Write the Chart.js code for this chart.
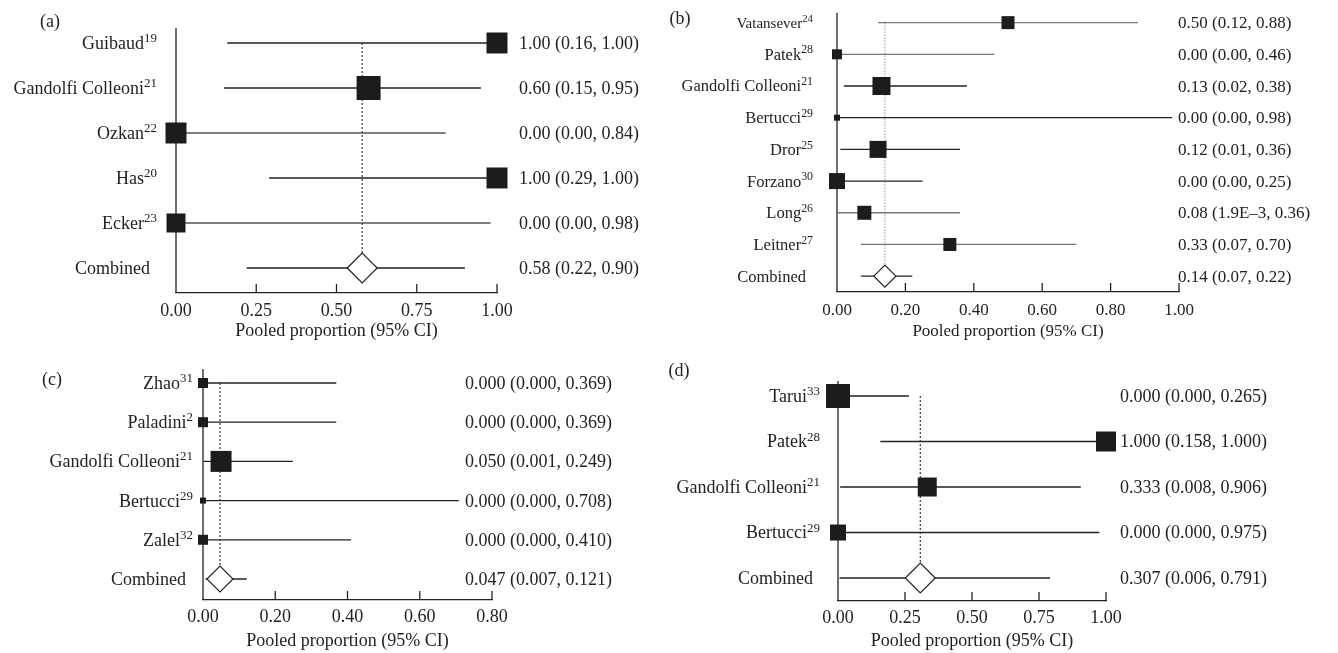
<!DOCTYPE html>
<html>
<head>
<meta charset="utf-8">
<script src="https://cdn.jsdelivr.net/npm/chart.js@4.4.1/dist/chart.umd.min.js"></script>
<style>
body { margin: 0; background: #fff; }
#wrap { position: relative; width: 1338px; height: 653px; }
#wrap canvas { position: absolute; left: 0; top: 0; }
</style>
</head>
<body>
<div id="wrap">
  <canvas id="chartA" width="1338" height="653"></canvas>
  <canvas id="chartB" width="1338" height="653"></canvas>
  <canvas id="chartC" width="1338" height="653"></canvas>
  <canvas id="chartD" width="1338" height="653"></canvas>
</div>
<script>
// (a)
const namesA = ['Guibaud', 'Gandolfi Colleoni', 'Ozkan', 'Has', 'Ecker'];
const refsA = ['19', '21', '22', '20', '23'];
const estA = [1.00, 0.60, 0.00, 1.00, 0.00];
const loA = [0.16, 0.15, 0.00, 0.29, 0.00];
const hiA = [1.00, 0.95, 0.84, 1.00, 0.98];
const weightA = [21, 24, 21, 21, 19];
const pooledA = [0.58, 0.22, 0.90];
const ticksA = [0, 0.25, 0.50, 0.75, 1.00];

// (b)
const namesB = ['Vatansever', 'Patek', 'Gandolfi Colleoni', 'Bertucci', 'Dror', 'Forzano', 'Long', 'Leitner'];
const refsB = ['24', '28', '21', '29', '25', '30', '26', '27'];
const estB = [0.50, 0.00, 0.13, 0.00, 0.12, 0.00, 0.08, 0.33];
const loB = [0.12, 0.00, 0.02, 0.00, 0.01, 0.00, 0.0019, 0.07];
const hiB = [0.88, 0.46, 0.38, 0.98, 0.36, 0.25, 0.36, 0.70];
const weightB = [13, 10, 18, 6, 17, 16, 14, 13];
const pooledB = [0.14, 0.07, 0.22];
const ticksB = [0, 0.20, 0.40, 0.60, 0.80, 1.00];

// (c)
const namesC = ['Zhao', 'Paladini', 'Gandolfi Colleoni', 'Bertucci', 'Zalel'];
const refsC = ['31', '2', '21', '29', '32'];
const estC = [0.000, 0.000, 0.050, 0.000, 0.000];
const loC = [0.000, 0.000, 0.001, 0.000, 0.000];
const hiC = [0.369, 0.369, 0.249, 0.708, 0.410];
const weightC = [10, 10, 21, 6, 10];
const pooledC = [0.047, 0.007, 0.121];
const ticksC = [0, 0.20, 0.40, 0.60, 0.80];

// (d)
const namesD = ['Tarui', 'Patek', 'Gandolfi Colleoni', 'Bertucci'];
const refsD = ['33', '28', '21', '29'];
const estD = [0.000, 1.000, 0.333, 0.000];
const loD = [0.000, 0.158, 0.008, 0.000];
const hiD = [0.265, 1.000, 0.906, 0.975];
const weightD = [24, 20, 19, 16];
const pooledD = [0.307, 0.006, 0.791];
const ticksD = [0, 0.25, 0.50, 0.75, 1.00];

const W = 1338, H = 653;
const SERIF = '"Liberation Serif", "DejaVu Serif", serif';
const INK = '#222';

// tiny non-zero values are printed like 1.9E–3
function fmtVal(v, dec) {
    if (v > 0 && Number(v.toFixed(dec)) === 0) {
        return v.toExponential(1).replace('e', 'E').replace('-', '\u2013');
    }
    return v.toFixed(dec);
}

function drawLabel(ctx, name, ref, xRight, y, size) {
    const supSize = size * 0.72;
    ctx.textAlign = 'left';
    ctx.textBaseline = 'alphabetic';
    ctx.font = supSize + 'px ' + SERIF;
    const supW = ref ? ctx.measureText(ref).width : 0;
    ctx.font = size + 'px ' + SERIF;
    const w = ctx.measureText(name).width;
    const base = y + size * 0.33;
    ctx.fillText(name, xRight - supW - w, base);
    if (ref) {
        ctx.font = supSize + 'px ' + SERIF;
        ctx.fillText(ref, xRight - supW, base - size * 0.38);
    }
}

function makeForest(id, p) {
    const n = p.names.length;
    const plugin = {
        id: 'forest' + id,
        beforeDatasetsDraw(chart) {
            const ctx = chart.ctx;
            const xs = chart.scales.x, ys = chart.scales.y;
            const a = chart.chartArea;
            ctx.save();
            // y axis line
            ctx.strokeStyle = INK;
            ctx.lineWidth = 1.3;
            const x0 = xs.getPixelForValue(0);
            ctx.beginPath();
            ctx.moveTo(x0, a.top);
            ctx.lineTo(x0, a.bottom);
            ctx.stroke();
            // tick marks point up into the plot
            xs.ticks.forEach(t => {
                if (t.value === 0) return;
                const tx = xs.getPixelForValue(t.value);
                ctx.beginPath();
                ctx.moveTo(tx, a.bottom);
                ctx.lineTo(tx, a.bottom - 9);
                ctx.stroke();
            });
            // confidence interval lines
            ctx.lineWidth = 1.3;
            const los = p.lo.concat([p.pooled[1]]);
            const his = p.hi.concat([p.pooled[2]]);
            for (let i = 0; i <= n; i++) {
                const y = ys.getPixelForValue(i);
                ctx.strokeStyle = (p.greyRows && p.greyRows.includes(i)) ? p.greyColor : '#222';
                ctx.beginPath();
                ctx.moveTo(xs.getPixelForValue(los[i]), y);
                ctx.lineTo(xs.getPixelForValue(his[i]), y);
                ctx.stroke();
            }
            ctx.restore();
        },
        afterDraw(chart) {
            const ctx = chart.ctx;
            const ys = chart.scales.y;
            ctx.save();
            ctx.fillStyle = INK;
            // panel letter
            ctx.font = '18px ' + SERIF;
            ctx.textAlign = 'center';
            ctx.textBaseline = 'middle';
            ctx.fillText(p.letter, p.letterX, p.letterY);
            // study labels
            for (let i = 0; i < n; i++) {
                const size = (p.smallRows && p.smallRows.includes(i)) ? p.font - 1.5 : p.font;
                drawLabel(ctx, p.names[i], p.refs[i], p.labelRight, ys.getPixelForValue(i), size);
            }
            drawLabel(ctx, 'Combined', '', p.labelRight - 7, ys.getPixelForValue(n), p.font);
            // estimate (CI) text
            ctx.font = p.textFont + 'px ' + SERIF;
            ctx.textAlign = 'left';
            ctx.textBaseline = 'alphabetic';
            const ests = p.est.concat([p.pooled[0]]);
            const los = p.lo.concat([p.pooled[1]]);
            const his = p.hi.concat([p.pooled[2]]);
            for (let i = 0; i <= n; i++) {
                const s = fmtVal(ests[i], p.dec) + ' (' + fmtVal(los[i], p.dec) + ', ' + fmtVal(his[i], p.dec) + ')';
                ctx.fillText(s, p.textX, ys.getPixelForValue(i) + p.textFont * 0.33);
            }
            ctx.restore();
        }
    };

    return new Chart(document.getElementById(id), {
        type: 'scatter',
        data: {
            datasets: [{
                data: p.est.map((v, i) => ({ x: v, y: i })),
                pointStyle: 'rect',
                pointRadius: p.weight.map(w => w / Math.SQRT2),
                backgroundColor: '#1c1c1c',
                borderWidth: 0,
                clip: false
            }, {
                data: [{ x: p.pooled[0], y: n }],
                pointStyle: 'rectRot',
                pointRadius: p.diamond / 2,
                backgroundColor: '#fff',
                borderColor: INK,
                borderWidth: 1.2,
                clip: false
            }, {
                type: 'line',
                data: [{ x: p.pooled[0], y: 0 }, { x: p.pooled[0], y: n }],
                borderColor: p.dashColor,
                borderWidth: p.dashWidth,
                borderDash: p.dash,
                pointRadius: 0,
                fill: false,
                clip: false
            }]
        },
        options: {
            responsive: false,
            animation: false,
            events: [],
            layout: {
                padding: {
                    left: p.left,
                    right: W - p.right,
                    top: p.top,
                    bottom: H - p.bottom - p.scaleH
                }
            },
            plugins: {
                legend: { display: false },
                tooltip: { enabled: false }
            },
            scales: {
                x: {
                    type: 'linear',
                    min: 0,
                    max: p.ticks[p.ticks.length - 1],
                    afterBuildTicks: s => { s.ticks = p.ticks.map(v => ({ value: v })); },
                    grid: { display: false },
                    border: { display: true, color: INK, width: 1.3 },
                    ticks: {
                        padding: p.tickPad,
                        color: INK,
                        maxRotation: 0,
                        autoSkip: false,
                        font: { family: SERIF, size: p.textFont },
                        callback: v => v.toFixed(2)
                    },
                    title: {
                        display: true,
                        text: 'Pooled proportion (95% CI)',
                        color: INK,
                        padding: 0,
                        font: { family: SERIF, size: p.textFont }
                    },
                    afterFit: s => { s.height = p.scaleH; }
                },
                y: {
                    type: 'linear',
                    display: false,
                    reverse: true,
                    min: p.yMin,
                    max: p.yMax
                }
            }
        },
        plugins: [plugin]
    });
}

makeForest('chartA', {
    names: namesA, refs: refsA, est: estA, lo: loA, hi: hiA, weight: weightA, pooled: pooledA, ticks: ticksA,
    left: 176, right: 497, top: 28, bottom: 293, scaleH: 49, yMin: -0.333, yMax: 5.556,
    labelRight: 157, textX: 519, letter: '(a)', letterX: 50, letterY: 22,
    font: 18, textFont: 18, tickPad: -1, dec: 2, diamond: 30,
    dash: [2, 2], dashColor: '#333', dashWidth: 1.2, greyRows: [2, 4], greyColor: '#555'
});

makeForest('chartB', {
    names: namesB, refs: refsB, est: estB, lo: loB, hi: hiB, weight: weightB, pooled: pooledB, ticks: ticksB,
    left: 837, right: 1179, top: 10, bottom: 292, scaleH: 50, yMin: -0.3125, yMax: 8.5,
    labelRight: 813, textX: 1178, letter: '(b)', letterX: 680, letterY: 19,
    font: 16.5, textFont: 17, tickPad: 0, dec: 2, diamond: 22,
    dash: [1, 2], dashColor: '#666', dashWidth: 1, greyRows: [0, 1, 6, 7], greyColor: '#777', smallRows: [0]
});

makeForest('chartC', {
    names: namesC, refs: refsC, est: estC, lo: loC, hi: hiC, weight: weightC, pooled: pooledC, ticks: ticksC,
    left: 203, right: 492, top: 369, bottom: 600, scaleH: 52, yMin: -0.357, yMax: 5.536,
    labelRight: 193, textX: 465, letter: '(c)', letterX: 52, letterY: 380,
    font: 18, textFont: 18, tickPad: -2, dec: 3, diamond: 26,
    dash: [2, 2], dashColor: '#333', dashWidth: 1.2
});

makeForest('chartD', {
    names: namesD, refs: refsD, est: estD, lo: loD, hi: hiD, weight: weightD, pooled: pooledD, ticks: ticksD,
    left: 838, right: 1106, top: 381, bottom: 601, scaleH: 51, yMin: -0.33, yMax: 4.505,
    labelRight: 820, textX: 1120, letter: '(d)', letterX: 679, letterY: 371,
    font: 18, textFont: 18, tickPad: -2, dec: 3, diamond: 30,
    dash: [2, 2], dashColor: '#333', dashWidth: 1.2
});
</script>
</body>
</html>
